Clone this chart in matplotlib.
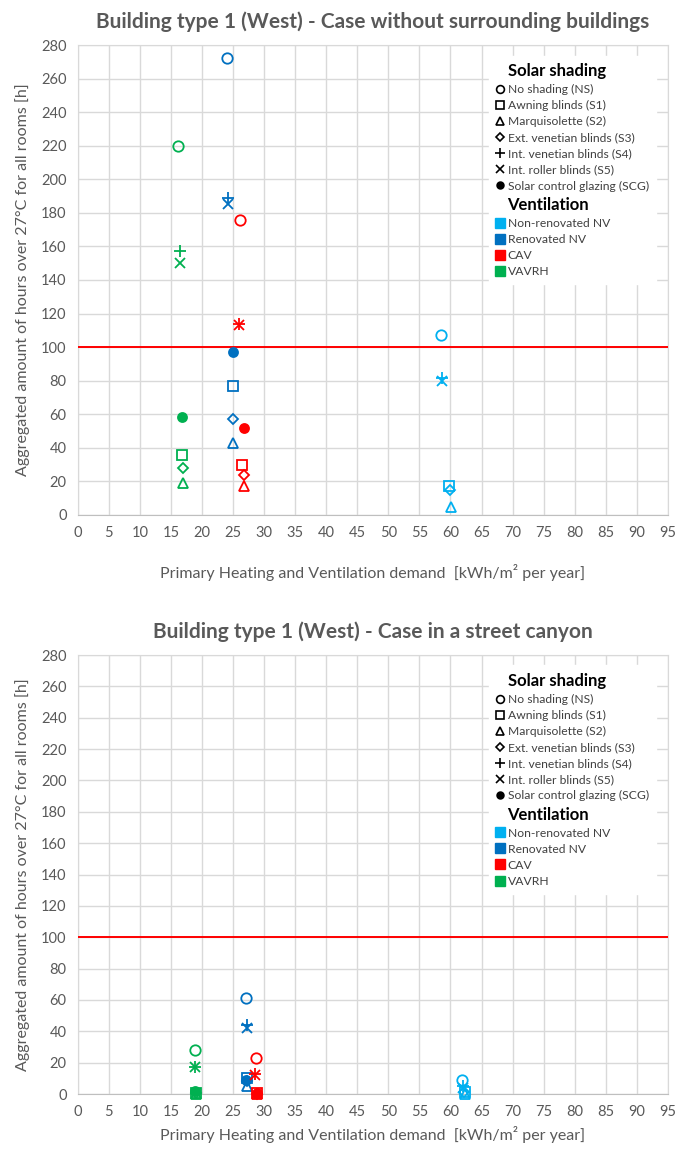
import matplotlib
matplotlib.use('agg')
import matplotlib.pyplot as plt
from matplotlib.lines import Line2D

plt.rcParams['font.family'] = ['Lato', 'DejaVu Sans']

# Solar shading variants and their markers
shading = ['NS', 'S1', 'S2', 'S3', 'S4', 'S5', 'SCG']
shading_labels = ['No shading (NS)', 'Awning blinds (S1)', 'Marquisolette (S2)',
                  'Ext. venetian blinds (S3)', 'Int. venetian blinds (S4)',
                  'Int. roller blinds (S5)', 'Solar control glazing (SCG)']
ventilation = ['Non-renovated NV', 'Renovated NV', 'CAV', 'VAVRH']
vent_colors = ['#00B0F0', '#0070C0', '#FF0000', '#00B050']

# Case without surrounding buildings: demand [kWh/m2 a] and overheating hours [h]
# order of shading: NS, S1, S2, S3, S4, S5, SCG (None = not simulated)
free_x = {
    'Non-renovated NV': [58.5, 59.7, 60.1, 59.9, 58.7, 58.7, None],
    'Renovated NV': [24.0, 25.0, 25.0, 25.0, 24.2, 24.2, 25.0],
    'CAV': [26.1, 26.5, 26.8, 26.7, 26.0, 26.0, 26.7],
    'VAVRH': [16.1, 16.7, 16.9, 16.9, 16.4, 16.4, 16.8],
}
free_y = {
    'Non-renovated NV': [107, 17, 5, 15, 81.5, 80, None],
    'Renovated NV': [272, 77, 43, 57, 189, 185, 97],
    'CAV': [176, 30, 17, 24, 114, 113, 52],
    'VAVRH': [220, 36, 19, 28, 157, 150, 58.5],
}

# Case in a street canyon
canyon_x = {
    'Non-renovated NV': [61.9, 62.3, 62.4, 62.2, 62.0, 62.0, None],
    'Renovated NV': [27.1, 27.2, 27.3, 27.3, 27.2, 27.2, 27.1],
    'CAV': [28.7, 28.8, 28.9, 28.9, 28.6, 28.6, 28.8],
    'VAVRH': [18.9, 19.0, 19.0, 19.0, 18.9, 18.9, 18.9],
}
canyon_y = {
    'Non-renovated NV': [9, 1, 0, 1, 5, 4, None],
    'Renovated NV': [61, 10, 5, 8, 44, 42, 9],
    'CAV': [23, 0.5, 0, 0.3, 12.5, 12, 0.5],
    'VAVRH': [28, 0.5, 0, 0.5, 17.5, 17, 2],
}

limit_hours = 100
xticks = list(range(0, 100, 5))
yticks = list(range(0, 300, 20))

marker_style = {
    'NS': dict(marker='o', ms=7.5, fill=False),
    'S1': dict(marker='s', ms=7.5, fill=False),
    'S2': dict(marker='^', ms=7, fill=False),
    'S3': dict(marker='D', ms=5.5, fill=False),
    'S4': dict(marker='+', ms=9, fill=False),
    'S5': dict(marker='x', ms=7.5, fill=False),
    'SCG': dict(marker='o', ms=6.5, fill=True),
}

grey = '#595959'
grid_col = '#D9D9D9'


def draw_case(ax, xs, ys, title, xlabelpad):
    for vent, col in zip(ventilation, vent_colors):
        for k, sh in enumerate(shading):
            x, y = xs[vent][k], ys[vent][k]
            if x is None:
                continue
            st = marker_style[sh]
            ax.plot([x], [y], linestyle='none', marker=st['marker'], ms=st['ms'],
                    mec=col, mfc=col if st['fill'] else 'none', mew=1.3,
                    zorder=4, clip_on=False)
    ax.axhline(limit_hours, color='#FF0000', lw=1.4, zorder=3)
    ax.set_xlim(0, 95)
    ax.set_ylim(0, 280)
    ax.set_xticks(xticks)
    ax.set_yticks(yticks)
    ax.grid(True, color=grid_col, lw=1.0)
    ax.set_axisbelow(True)
    for s in ax.spines.values():
        s.set_color(grid_col)
    ax.spines['bottom'].set_color('#BFBFBF')
    ax.tick_params(length=0, labelsize=10.5, labelcolor=grey, pad=8)
    ax.set_title(title, fontsize=15, fontweight='bold', color=grey, pad=12)
    ax.set_xlabel('Primary Heating and Ventilation demand  [kWh/m² per year]',
                  fontsize=11.5, color=grey, labelpad=xlabelpad)
    ax.set_ylabel('Aggregated amount of hours over 27°C for all rooms [h]',
                  fontsize=11.5, color=grey, labelpad=8)

    # Legend: shading markers followed by ventilation colours
    blank = Line2D([], [], linestyle='none')
    handles = [blank]
    labels = ['Solar shading']
    for sh, lab in zip(shading, shading_labels):
        st = marker_style[sh]
        handles.append(Line2D([], [], linestyle='none', marker=st['marker'],
                              ms=st['ms'] * 0.75, mec='black',
                              mfc='black' if st['fill'] else 'none', mew=1.2))
        labels.append(lab)
    handles.append(blank)
    labels.append('Ventilation')
    for vent, col in zip(ventilation, vent_colors):
        handles.append(Line2D([], [], linestyle='none', marker='s', ms=6.5,
                              mec=col, mfc=col))
        labels.append(vent)
    leg = ax.legend(handles, labels, loc='upper right',
                    bbox_to_anchor=(0.99, 0.99), fontsize=8.7,
                    handlelength=0.6, handletextpad=0.3, labelspacing=0.42,
                    borderpad=0.6, frameon=True, fancybox=False,
                    edgecolor='white', facecolor='white', framealpha=1)
    for t in leg.get_texts():
        t.set_color('#404040')
        if t.get_text() in ('Solar shading', 'Ventilation'):
            t.set_fontsize(12)
            t.set_fontweight('bold')
            t.set_color('black')
    leg.set_zorder(5)


fig = plt.figure(figsize=(6.77, 11.51), dpi=100)
ax1 = fig.add_axes([0.115, 0.5526, 0.8715, 0.4083])
ax2 = fig.add_axes([0.115, 0.0495, 0.8715, 0.3814])

draw_case(ax1, free_x, free_y,
          'Building type 1 (West) - Case without surrounding buildings', 17)
draw_case(ax2, canyon_x, canyon_y,
          'Building type 1 (West) - Case in a street canyon', 5)

fig.savefig('out.png', dpi=100)
